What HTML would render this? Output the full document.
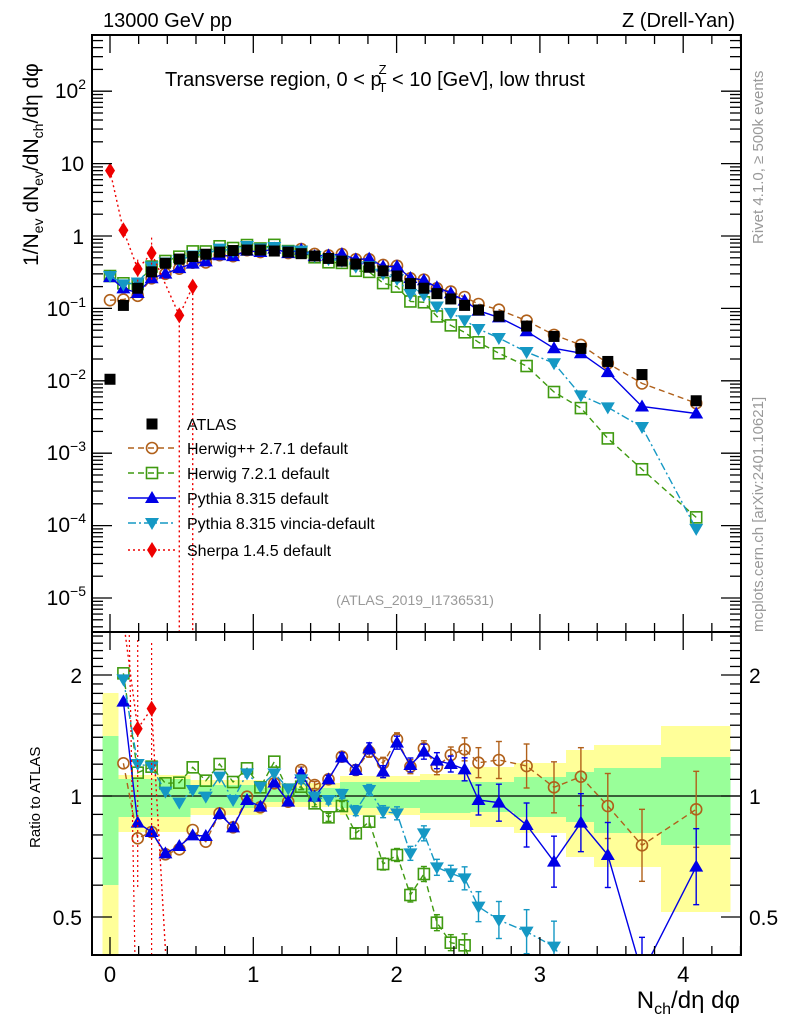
<!DOCTYPE html>
<html><head><meta charset="utf-8"><style>
html,body{margin:0;padding:0;background:#fff;width:786px;height:1024px;overflow:hidden;}
svg{display:block;font-family:"Liberation Sans",sans-serif;}
</style></head><body>
<svg id="s" width="786" height="1024" xmlns="http://www.w3.org/2000/svg"></svg>
<script>
const S=document.getElementById('s');let h='';
const L=92,R=741,T=35,MB=632,RB=955;
const X=[110,123.4,137.7,151.6,165.4,179.3,192.7,205.8,219.6,233.1,247,260.4,274.3,288.2,301.2,314.6,328.5,341.9,355.8,369.2,383.1,397,410.4,423.9,436.9,450.8,464.6,478.5,498.9,526.6,554,580.9,607.8,642,696.2];
const A=[0.0105,0.11,0.19,0.32,0.42,0.48,0.52,0.56,0.6,0.63,0.64,0.64,0.62,0.6,0.57,0.53,0.49,0.45,0.41,0.37,0.33,0.28,0.22,0.19,0.16,0.135,0.11,0.095,0.078,0.057,0.041,0.028,0.0185,0.0122,0.0053];
const rz=z=>z==null?null:Math.pow(2,(176-z/3)/121);
const my=v=>236-72.4*Math.log10(v);
const ry=r=>796-121*Math.log2(r);
const P={
 blue:[null,245,608,636,700,678,646,648,582,622,540,560,488,545,460,530,478,412,450,385,455,368,435,395,422,432,448,540,548,615,725,608,705,1060,740],
 brown:[null,430,655,636,703,688,630,665,580,622,530,562,490,545,450,495,478,410,450,395,430,358,440,385,440,405,388,428,420,438,502,470,558,676,568],
 green:[null,160,458,440,490,488,442,482,432,486,445,502,425,512,500,550,592,558,640,605,732,705,825,762,908,968,976,1100,1200,1300,1400,1500,1600,1700,1800],
 cyan:[null,178,432,440,515,548,510,530,470,540,460,500,460,505,478,530,540,522,572,510,575,580,700,640,742,760,775,860,900,935,980,1100,1200,1300,1800]
};
const R0={blue:0.27,brown:0.13,green:0.28,cyan:0.28};
const mainOv={green:{27:0.034,28:0.024,29:0.016,30:0.007,31:0.0042,32:0.0016,33:0.0006,34:1.3e-4},cyan:{27:0.052,28:0.039,29:0.025,30:0.0175,31:0.0063,32:0.0043,33:0.0023,34:9e-5}};
const col={blue:'#0000e6',brown:'#b0601a',green:'#3f9a10',cyan:'#1598c4',red:'#ee0000'};
const dash={blue:'',brown:'6,4',green:'6,4',cyan:'8,3,2,3',red:'2,3'};
function marker(t,x,y,c){
 if(t=='blue')return `<polygon points="${x},${y-7} ${x-7},${y+5} ${x+7},${y+5}" fill="${c}"/>`;
 if(t=='cyan')return `<polygon points="${x},${y+7} ${x-7},${y-5} ${x+7},${y-5}" fill="${c}"/>`;
 if(t=='brown')return `<circle cx="${x}" cy="${y}" r="5.5" fill="none" stroke="${c}" stroke-width="1.6"/>`;
 if(t=='green')return `<rect x="${x-5.5}" y="${y-5.5}" width="11" height="11" fill="none" stroke="${c}" stroke-width="1.6"/>`;
 if(t=='red')return `<polygon points="${x},${y-8} ${x-5},${y} ${x},${y+8} ${x+5},${y}" fill="${c}"/>`;
 if(t=='atlas')return `<rect x="${x-5.5}" y="${y-5.5}" width="11" height="11" fill="#000"/>`;
}
h+=`<defs><clipPath id="cm"><rect x="${L}" y="${T}" width="${R-L}" height="${MB-T}"/></clipPath><clipPath id="cr"><rect x="${L}" y="${MB}" width="${R-L}" height="${RB-MB}"/></clipPath></defs>`;
const bands=[[102.5,118,693,957,736,885],[118,190,775,832,779,817],[190,262,780,815,785,808],[262,340,783,807,788,802],[340,420,776,815,782,808],[420,470,774,820,780,813],[470,514,767,827,782,812],[514,566,763,833,777,817],[566,594,750,857,772,822],[594,661,745,867,768,833],[661,730,726,912,757,845]];
h+='<g clip-path="url(#cr)">';
for(const b of bands)h+=`<rect x="${b[0]}" y="${b[2]}" width="${b[1]-b[0]+0.5}" height="${b[3]-b[2]}" fill="#ffff99"/>`;
for(const b of bands)h+=`<rect x="${b[0]}" y="${b[4]}" width="${b[1]-b[0]+0.5}" height="${b[5]-b[4]}" fill="#99ff99"/>`;
h+=`<line x1="${L}" y1="796" x2="${R}" y2="796" stroke="#000" stroke-width="1.3"/>`;
h+='</g>';
const order=['brown','green','blue','cyan'];
let mainG='<g clip-path="url(#cm)">',ratG='<g clip-path="url(#cr)">';
for(const k of order){
 const c=col[k];let mp=[],rp=[];
 for(let i=0;i<X.length;i++){
  let v;
  if(i==0)v=R0[k];else if(mainOv[k]&&mainOv[k][i]!=null)v=mainOv[k][i];else v=A[i]*rz(P[k][i]);
  mp.push([X[i],my(v)]);
  if(i>0)rp.push([X[i],ry(rz(P[k][i]))]);
 }
 const pl=a=>a.map(p=>p[0].toFixed(1)+','+p[1].toFixed(1)).join(' ');
 mainG+=`<polyline points="${pl(mp)}" fill="none" stroke="${c}" stroke-width="1.4" stroke-dasharray="${dash[k]}"/>`;
 ratG+=`<polyline points="${pl(rp)}" fill="none" stroke="${c}" stroke-width="1.4" stroke-dasharray="${dash[k]}"/>`;
 for(const p of mp)mainG+=marker(k,p[0],p[1],c);
 rp.forEach((p,j)=>{const i=j+1;if(i>=14){const e=i<25?3+(i-14)*0.5:Math.min(38,8+(i-25)*3.5);ratG+=`<line x1="${p[0]}" y1="${p[1]-e}" x2="${p[0]}" y2="${p[1]+e}" stroke="${c}" stroke-width="1.4"/><line x1="${p[0]-3}" y1="${p[1]-e}" x2="${p[0]+3}" y2="${p[1]-e}" stroke="${c}" stroke-width="1.4"/><line x1="${p[0]-3}" y1="${p[1]+e}" x2="${p[0]+3}" y2="${p[1]+e}" stroke="${c}" stroke-width="1.4"/>`;}
  ratG+=marker(k,p[0],p[1],c);});
}
const sm=[[110,8],[123.4,1.2],[137.7,0.35],[151.6,0.58],[179.3,0.08],[192.7,0.2]];
let sp=sm.map(p=>[p[0],my(p[1])]);
mainG+=`<polyline points="${sp.map(p=>p.join(',')).join(' ')} 192.7,700" fill="none" stroke="${col.red}" stroke-width="1.4" stroke-dasharray="2,3"/>`;
mainG+=`<line x1="179.3" y1="${my(0.08)}" x2="179.3" y2="640" stroke="${col.red}" stroke-width="1.4" stroke-dasharray="2,3"/>`;
mainG+=`<line x1="137.7" y1="${my(0.2)}" x2="137.7" y2="${my(0.5)}" stroke="${col.red}" stroke-width="1.2" stroke-dasharray="2,3"/>`;
mainG+=`<line x1="151.6" y1="${my(0.25)}" x2="151.6" y2="${my(1.0)}" stroke="${col.red}" stroke-width="1.2" stroke-dasharray="2,3"/>`;
for(const p of sp)mainG+=marker('red',p[0],p[1],col.red);
ratG+=`<polyline points="123.4,620 137.7,${ry(1.47)} 151.6,${ry(1.65)} 166,960" fill="none" stroke="${col.red}" stroke-width="1.4" stroke-dasharray="2,3"/>`;
ratG+=`<line x1="137.7" y1="640" x2="137.7" y2="888" stroke="${col.red}" stroke-width="1.2" stroke-dasharray="2,3"/><line x1="151.6" y1="643" x2="151.6" y2="960" stroke="${col.red}" stroke-width="1.2" stroke-dasharray="2,3"/><line x1="129" y1="620" x2="135" y2="960" stroke="${col.red}" stroke-width="1.2" stroke-dasharray="2,3"/>`;
ratG+=marker('red',137.7,ry(1.47),col.red)+marker('red',151.6,ry(1.65),col.red);
for(let i=0;i<X.length;i++)mainG+=marker('atlas',X[i],my(A[i]));
h+=mainG+'</g>'+ratG+'</g>';
h+=`<rect x="${L}" y="${T}" width="${R-L}" height="${MB-T}" fill="none" stroke="#000" stroke-width="2"/><rect x="${L}" y="${MB}" width="${R-L}" height="${RB-MB}" fill="none" stroke="#000" stroke-width="2"/>`;
const xp=v=>110+143.3*v;
for(let v=-0.2;v<=4.5;v+=0.2){const x=xp(v);if(x<L||x>R)continue;const maj=Math.abs(v-Math.round(v))<0.01;const l=maj?18:9;
 for(const [y0,dir] of [[T,1],[MB,-1],[MB,1],[RB,-1]])h+=`<line x1="${x}" y1="${y0}" x2="${x}" y2="${y0+dir*l}" stroke="#000" stroke-width="1.3"/>`;}
for(let k=0;k<=4;k++)h+=`<text x="${xp(k)}" y="982" font-size="22" text-anchor="middle">${k}</text>`;
for(let d=-6;d<=2;d++)for(let m=1;m<10;m++){const y=my(m*Math.pow(10,d));if(y<T||y>MB)continue;const l=m==1?20:11;
 h+=`<line x1="${L}" y1="${y}" x2="${L+l}" y2="${y}" stroke="#000" stroke-width="1.3"/><line x1="${R}" y1="${y}" x2="${R-l}" y2="${y}" stroke="#000" stroke-width="1.3"/>`;}
const yl=[[90,'2'],[163,null,'10'],[236,null,'1'],[308,'−1'],[380,'−2'],[452,'−3'],[524,'−4'],[597,'−5']];
for(const [y,e,t] of yl){
 if(e)h+=`<text x="86" y="${y+8}" font-size="21" text-anchor="end">10<tspan dy="-9" font-size="14">${e}</tspan></text>`;
 else h+=`<text x="84" y="${y+8}" font-size="21" text-anchor="end">${t}</text>`;}
for(let r=0.4;r<=2.6;r+=0.1){const y=ry(r);if(y<MB||y>RB)continue;const maj=[0.5,1,2].some(q=>Math.abs(q-r)<0.01);const l=maj?20:11;
 h+=`<line x1="${L}" y1="${y}" x2="${L+l}" y2="${y}" stroke="#000" stroke-width="1.3"/><line x1="${R}" y1="${y}" x2="${R-l}" y2="${y}" stroke="#000" stroke-width="1.3"/>`;}
for(const [r,t] of [[2,'2'],[1,'1'],[0.5,'0.5']]){const y=ry(r)+8;h+=`<text x="82" y="${y}" font-size="21" text-anchor="end">${t}</text><text x="749" y="${y}" font-size="21">${t}</text>`;}
h+=`<text x="103" y="27" font-size="20">13000 GeV pp</text><text x="735" y="27" font-size="20" text-anchor="end">Z (Drell-Yan)</text>`;
h+=`<text x="165" y="86" font-size="20">Transverse region, 0 &lt; p<tspan font-size="13" dx="-3" dy="-12">Z</tspan><tspan font-size="13" dx="-8" dy="18">T</tspan><tspan dy="-6"> &lt; 10 [GeV], low thrust</tspan></text>`;
h+=`<text transform="translate(38,266) rotate(-90)" font-size="21">1/N<tspan font-size="14" dy="5">ev</tspan><tspan dy="-5"> dN</tspan><tspan font-size="14" dy="5">ev</tspan><tspan dy="-5">/dN</tspan><tspan font-size="14" dy="5">ch</tspan><tspan dy="-5">/dη dφ</tspan></text>`;
h+=`<text transform="translate(40,848) rotate(-90)" font-size="15">Ratio to ATLAS</text>`;
h+=`<text transform="translate(763,244) rotate(-90)" font-size="15" fill="#999">Rivet 4.1.0, ≥ 500k events</text>`;
h+=`<text transform="translate(763,632) rotate(-90)" font-size="15" fill="#999">mcplots.cern.ch [arXiv:2401.10621]</text>`;
h+=`<text x="415" y="605" font-size="14" fill="#999" text-anchor="middle">(ATLAS_2019_I1736531)</text>`;
h+=`<text x="740" y="1008" font-size="24" text-anchor="end">N<tspan font-size="16" dy="6">ch</tspan><tspan dy="-6">/dη dφ</tspan></text>`;
const leg=[['atlas','ATLAS',424],['brown','Herwig++ 2.7.1 default',448],['green','Herwig 7.2.1 default',473],['blue','Pythia 8.315 default',498],['cyan','Pythia 8.315 vincia-default',523],['red','Sherpa 1.4.5 default',550]];
for(const [k,t,y] of leg){if(k!='atlas')h+=`<line x1="128" y1="${y}" x2="176" y2="${y}" stroke="${col[k]}" stroke-width="1.4" stroke-dasharray="${dash[k]}"/>`;
 h+=marker(k,152,y,col[k]||'#000')+`<text x="187" y="${y+6}" font-size="16">${t}</text>`;}
S.innerHTML=h;
</script>
</body></html>
